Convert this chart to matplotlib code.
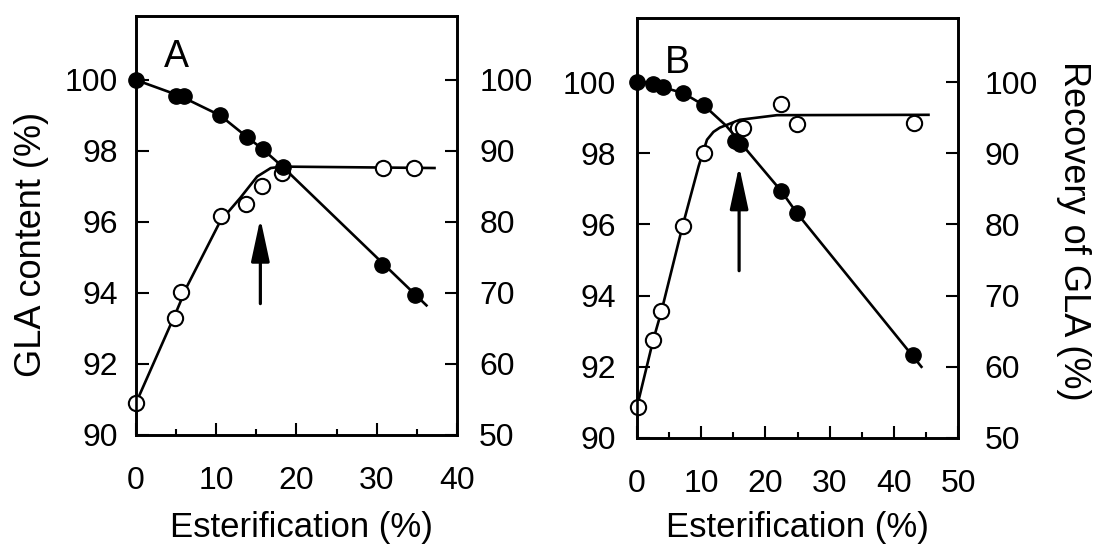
import matplotlib
matplotlib.use("Agg")
import matplotlib.pyplot as plt
from matplotlib.ticker import MultipleLocator


# panel A: GLA content (filled) and recovery (open) vs esterification
A_CONTENT_X = [0, 5, 6, 10.5, 13.8, 15.8, 18.3, 30.7, 34.8]
A_CONTENT_Y = [100.0, 99.55, 99.55, 99.0, 98.4, 98.05, 97.55, 94.8, 93.95]
A_RECOV_X = [0, 4.9, 5.6, 10.65, 13.7, 15.75, 18.25, 30.8, 34.7]
A_RECOV_Y = [54.5, 66.5, 70.2, 80.8, 82.6, 85.0, 86.9, 87.6, 87.6]

# hand-drawn fit curves (knots)
A_CONTENT_FIT_X = [0, 5.5, 10.5, 13.8, 15.8, 18.3, 36.2]
A_CONTENT_FIT_Y = [100.0, 99.55, 99.0, 98.4, 98.05, 97.55, 93.65]
A_RECOV_FIT_X = [0, 5, 6.3, 10.5, 13, 15.1, 16.8, 18.2, 37.2]
A_RECOV_FIT_Y = [54.5, 67.3, 70.8, 80.1, 83.4, 86.4, 87.6, 87.8, 87.6]

# panel B
B_CONTENT_X = [0, 2.5, 4.1, 7.2, 10.4, 15.3, 16.0, 22.5, 24.9, 43.0]
B_CONTENT_Y = [100.0, 99.94, 99.85, 99.69, 99.35, 98.34, 98.25, 96.93, 96.32, 92.32]
B_RECOV_X = [0.2, 2.5, 3.8, 7.1, 10.4, 15.8, 16.5, 22.5, 24.9, 43.1]
B_RECOV_Y = [54.4, 63.7, 67.8, 79.8, 90.0, 93.6, 93.6, 96.9, 94.1, 94.2]

B_CONTENT_FIT_X = [0, 2.5, 4.1, 7.2, 10.4, 13.9, 22.5, 24.9, 44.3]
B_CONTENT_FIT_Y = [100.0, 99.94, 99.85, 99.69, 99.35, 98.77, 96.93, 96.32, 92.0]
B_RECOV_FIT_X = [0, 2.5, 3.8, 7.1, 9.6, 10.9, 11.9, 12.9, 16, 21.8, 45.4]
B_RECOV_FIT_Y = [54.4, 63.7, 67.8, 79.8, 88.2, 91.9, 93.0, 93.6, 94.7, 95.35, 95.4]

# arrows: x, tail y, tip y (left axis units)
A_ARROW = (15.5, 93.7, 96.1)
B_ARROW = (15.9, 94.7, 97.64)

LEFT_TICKS = [90, 92, 94, 96, 98, 100]
RIGHT_TICKS = [50, 60, 70, 80, 90, 100]


def _style() -> None:
    plt.rcParams.update(
        {
            "font.family": ["Liberation Sans", "DejaVu Sans"],
            "font.size": 23,
            "axes.linewidth": 1.9,
            "lines.linewidth": 1.9,
        }
    )


def _ticks(ax, pad):
    ax.tick_params(axis="both", which="major", direction="in", length=9, width=1.5, labelsize=23)
    ax.tick_params(axis="both", which="minor", direction="in", length=4.5, width=1.5)
    ax.tick_params(axis="y", pad=pad)
    ax.tick_params(axis="x", pad=22)


def draw_panel(ax, letter, letter_pos, xmax, cx, cy, rx, ry, cfx, cfy, rfx, rfy, arrow, lpad, rpad):
    ax2 = ax.twinx()
    ax.set_zorder(ax2.get_zorder() + 1)
    ax.patch.set_visible(False)

    ax2.plot(rfx, rfy, color="black", lw=1.9, zorder=2)
    ax2.plot(rx, ry, "o", ms=11, mfc="white", mec="black", mew=1.5, zorder=3, clip_on=False)
    ax.plot(cfx, cfy, color="black", lw=1.9, zorder=2)
    ax.plot(cx, cy, "o", ms=11, mfc="black", mec="black", zorder=4, clip_on=False)

    x0, y0, y1 = arrow
    ax.annotate(
        "",
        xy=(x0, y1),
        xytext=(x0, y0),
        arrowprops=dict(arrowstyle="-|>,head_length=1.3,head_width=0.28", mutation_scale=20,
                        lw=2.3, color="black", shrinkA=0, shrinkB=0),
    )

    ax.set_xlim(0, xmax)
    ax.set_ylim(90, 101.8)
    ax2.set_ylim(50, 109)
    ax.set_yticks(LEFT_TICKS)
    ax2.set_yticks(RIGHT_TICKS)
    ax.xaxis.set_major_locator(MultipleLocator(10))
    ax.xaxis.set_minor_locator(MultipleLocator(5))
    _ticks(ax, lpad)
    _ticks(ax2, rpad)
    ax.tick_params(axis="y", right=False)
    ax.tick_params(axis="x", top=False, which="both")
    for sp in ax2.spines.values():
        sp.set_linewidth(1.9)

    ax.text(letter_pos[0], letter_pos[1], letter, transform=ax.transAxes, fontsize=27,
            ha="left", va="top")


def main() -> None:
    _style()
    fig = plt.figure(figsize=(10.94, 5.49), dpi=100)

    ax_a = fig.add_axes([0.1243, 0.2077, 0.2934, 0.763])
    ax_b = fig.add_axes([0.5823, 0.2022, 0.2934, 0.765])

    draw_panel(ax_a, "A", (0.087, 0.945), 40, A_CONTENT_X, A_CONTENT_Y, A_RECOV_X, A_RECOV_Y,
               A_CONTENT_FIT_X, A_CONTENT_FIT_Y, A_RECOV_FIT_X, A_RECOV_FIT_Y, A_ARROW, 13, 16)
    draw_panel(ax_b, "B", (0.087, 0.935), 50, B_CONTENT_X, B_CONTENT_Y, B_RECOV_X, B_RECOV_Y,
               B_CONTENT_FIT_X, B_CONTENT_FIT_Y, B_RECOV_FIT_X, B_RECOV_FIT_Y, B_ARROW, 15, 19)

    fig.text(301 / 1094, 1 - 528 / 549, "Esterification (%)", ha="center", va="center", fontsize=25)
    fig.text(797 / 1094, 1 - 528 / 549, "Esterification (%)", ha="center", va="center", fontsize=25)
    fig.text(32 / 1094, 1 - 244 / 549, "GLA content (%)", rotation=90, ha="center", va="center", fontsize=26)
    fig.text(1073 / 1094, 1 - 231 / 549, "Recovery of GLA (%)", rotation=270, ha="center", va="center",
             fontsize=26)

    fig.savefig("out.png", dpi=100)
    plt.close(fig)


if __name__ == "__main__":
    main()
